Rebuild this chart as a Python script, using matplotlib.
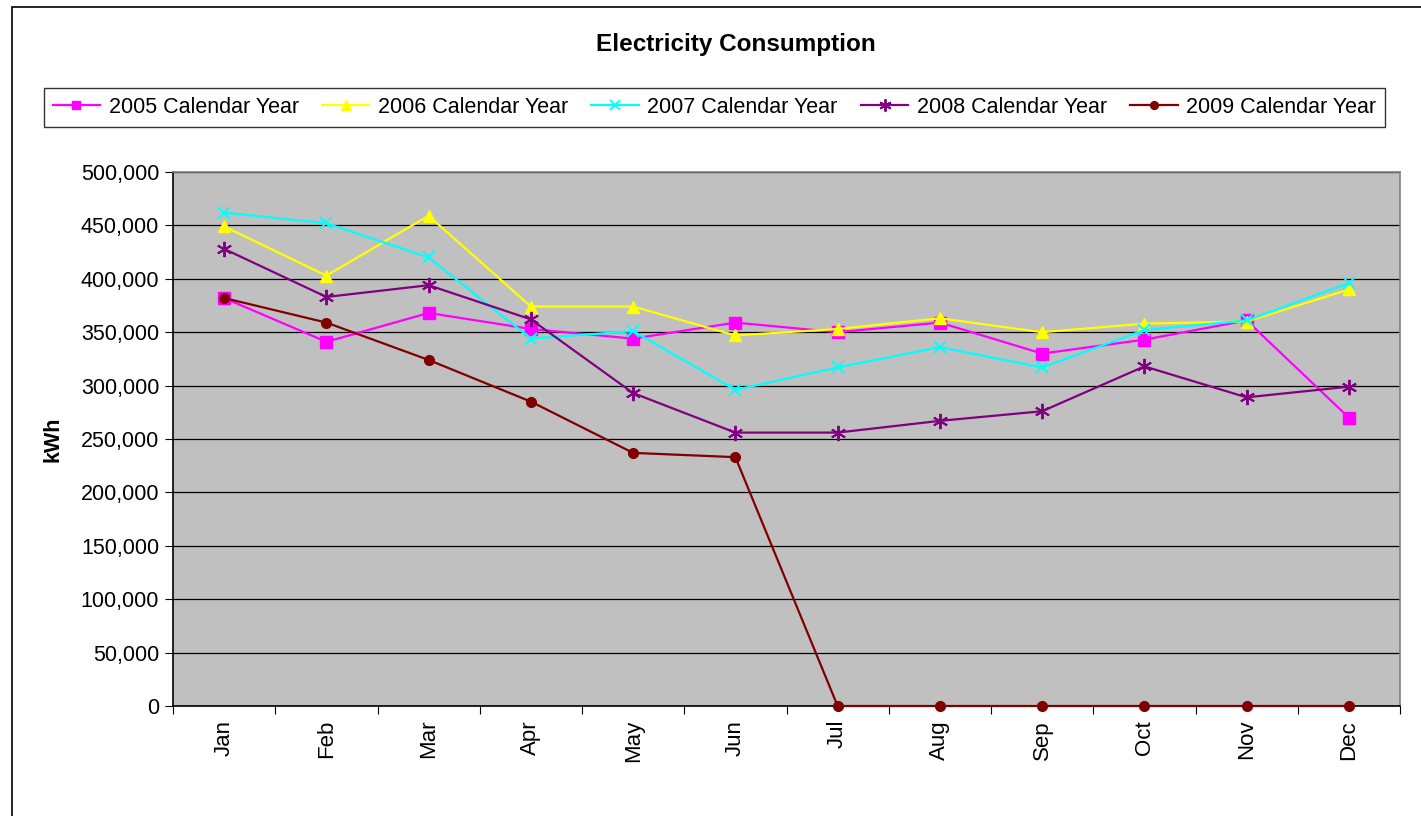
import numpy as np
import matplotlib.pyplot as plt
from matplotlib.patches import Rectangle

plt.rcParams['font.family'] = ['Liberation Sans', 'DejaVu Sans']

# Data
months = ['Jan', 'Feb', 'Mar', 'Apr', 'May', 'Jun',
          'Jul', 'Aug', 'Sep', 'Oct', 'Nov', 'Dec']
y2005 = [382000, 341000, 368000, 353000, 344000, 359000,
         350000, 359000, 330000, 343000, 361000, 270000]
y2006 = [449000, 403000, 459000, 374000, 374000, 347000,
         353000, 363000, 350000, 358000, 360000, 390000]
y2007 = [462000, 452000, 420000, 344000, 351000, 296000,
         317000, 336000, 317000, 352000, 361000, 396000]
y2008 = [428000, 383000, 394000, 362000, 293000, 256000,
         256000, 267000, 276000, 318000, 289000, 299000]
y2009 = [382000, 359000, 324000, 285000, 237000, 233000,
         0, 0, 0, 0, 0, 0]

series = [
    ('2005 Calendar Year', y2005, '#FF00FF', 's', 8),
    ('2006 Calendar Year', y2006, '#FFFF00', '^', 9),
    ('2007 Calendar Year', y2007, '#00FFFF', 'x', 9),
    ('2008 Calendar Year', y2008, '#800080', (6, 2, 0), 11),
    ('2009 Calendar Year', y2009, '#800000', 'o', 7),
]

W, H = 1421, 816
fig = plt.figure(figsize=(W / 100, H / 100), dpi=100)

# outer chart border (only left/top visible in the original)
fig.patches.append(Rectangle((12 / W, -0.1), 1.2, 1 - 7 / H + 0.1,
                             transform=fig.transFigure, fill=False,
                             edgecolor='black', linewidth=1.2))

ax = fig.add_axes([173 / W, 1 - 706 / H, (1400 - 173) / W, (706 - 172) / H])
ax.set_facecolor('#C0C0C0')

x = np.arange(len(months))
for name, vals, col, mk, ms in series:
    ax.plot(x, vals, color=col, marker=mk, markersize=ms, linewidth=1.6,
            markeredgewidth=1.4 if mk in ('x', (6, 2, 0)) else 1.0,
            label=name, clip_on=False, zorder=3)

ax.set_xlim(-0.5, 11.5)
ax.set_ylim(0, 500000)
yt = np.arange(0, 500001, 50000)
ax.set_yticks(yt)
ax.set_yticklabels([f'{v:,}' for v in yt], fontsize=15.5)
ax.yaxis.grid(True, color='black', linewidth=0.9)
ax.set_axisbelow(True)

# ticks between categories, labels at centres
ax.set_xticks(np.arange(-0.5, 12, 1))
ax.set_xticklabels([])
ax.set_xticks(x, minor=True)
ax.set_xticklabels(months, minor=True, rotation=90, fontsize=16)
ax.tick_params(axis='x', which='minor', length=0, pad=10)
ax.tick_params(axis='x', which='major', length=6, color='black')
ax.tick_params(axis='y', length=6, color='black', pad=4)

ax.spines['left'].set_color('black')
ax.spines['bottom'].set_color('black')
ax.spines['top'].set_color('#808080')
ax.spines['right'].set_color('#808080')
for s in ax.spines.values():
    s.set_linewidth(1.2)
    s.set_zorder(2)

ax.set_ylabel('kWh', fontsize=15.5, fontweight='bold', labelpad=12)

fig.text((596 + 876) / 2 / W, 1 - 44 / H, 'Electricity Consumption',
         ha='center', va='center', fontsize=17.5, fontweight='bold')

handles, labels = ax.get_legend_handles_labels()
leg = fig.legend(handles, labels, ncol=5, loc='center',
                 bbox_to_anchor=(44 / W, 1 - 130 / H, (1385 - 44) / W, 45 / H),
                 mode='expand', fontsize=15.5, frameon=True, fancybox=False,
                 edgecolor='black', handlelength=2.2, handletextpad=0.4,
                 borderaxespad=0, markerscale=0.8)
leg.get_frame().set_linewidth(1.0)

plt.savefig('out.png', dpi=100)
